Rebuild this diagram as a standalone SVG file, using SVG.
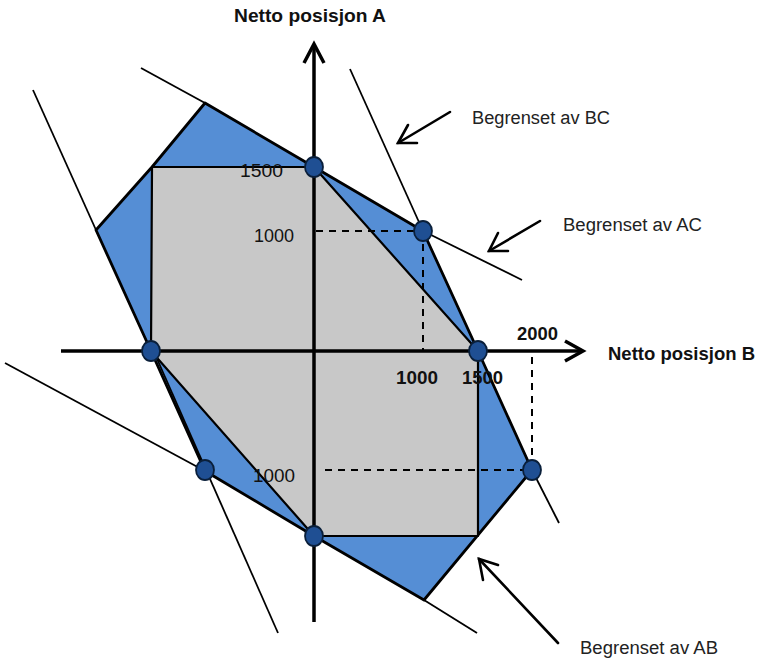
<svg xmlns="http://www.w3.org/2000/svg" width="759" height="659" viewBox="0 0 759 659">
<style>
.thin{stroke:#000;stroke-width:1.8;fill:none}
.thick{stroke:#000;stroke-width:2.8;fill:none;stroke-linejoin:round}
.axis{stroke:#000;stroke-width:3.5;fill:none}
.dash{stroke:#000;stroke-width:2;fill:none;stroke-dasharray:7,6}
.arr{stroke:#000;stroke-width:2.6;fill:none;stroke-linejoin:miter;stroke-linecap:round}
.pt{fill:#1f4f93;stroke:#0a1f3a;stroke-width:1.8}
.lbl{font-family:"Liberation Sans",Arial,sans-serif;font-size:18px;fill:#222}
.bold{font-family:"Liberation Sans",Arial,sans-serif;font-size:18px;font-weight:bold;fill:#111}
.num{font-family:"Liberation Sans",Arial,sans-serif;font-size:18px;fill:#111}
</style>
<rect width="759" height="659" fill="#fff"/>
<g id="regions">
<polygon id="blue" points="205,103 314,167 423,231 478,351 532,470 424,600 314,536 205,471 151,351 96,230 152,167" fill="#558ed5" stroke="#000" stroke-width="2.8" stroke-linejoin="round"/>
<polygon id="gray" points="152,167 314,167 478,351 478,536 314,536 151,351" fill="#c8c8c8" stroke="#000" stroke-width="2.2" stroke-linejoin="round"/>
</g>
<g id="connectors">
<line class="thin" x1="141" y1="68" x2="205" y2="103"/>
<line class="thin" x1="423" y1="231" x2="522" y2="280"/>
<line class="thin" x1="350" y1="69" x2="423" y2="231"/>
<line class="thin" x1="532" y1="470" x2="559" y2="523"/>
<line class="thin" x1="33" y1="90" x2="96" y2="230"/>
<line class="thin" x1="154" y1="352" x2="278" y2="633"/>
<line class="thin" x1="5" y1="363" x2="205" y2="471"/>
<line class="thin" x1="424" y1="600" x2="477" y2="633"/>
<line class="dash" x1="316" y1="231" x2="423" y2="231"/>
<line class="dash" x1="423" y1="231" x2="423" y2="351"/>
<line class="dash" x1="532" y1="357" x2="532" y2="470"/>
<line class="dash" x1="325" y1="470" x2="532" y2="470"/>
<line class="axis" x1="314" y1="44" x2="314" y2="622"/>
<polyline class="axis" points="304,63 314,44 324,63" stroke-linejoin="miter"/>
<line class="axis" x1="61" y1="351" x2="583" y2="351"/>
<polyline class="axis" points="565,341 583,351 565,361" stroke-linejoin="miter"/>
<line class="arr" x1="450" y1="112" x2="398" y2="143"/>
<polyline class="arr" points="408,125 398,143 417,143"/>
<line class="arr" x1="540" y1="221" x2="489" y2="251"/>
<polyline class="arr" points="498,233 489,251 508,251"/>
<line class="arr" x1="558" y1="643" x2="479" y2="559"/>
<polyline class="arr" points="498,565 479,559 483,580"/>
</g>
<g id="points">
<ellipse id="p1" class="pt" cx="314" cy="167" rx="9" ry="10"/>
<ellipse id="p2" class="pt" cx="423" cy="231" rx="9" ry="10"/>
<ellipse id="p3" class="pt" cx="478" cy="351" rx="9" ry="10"/>
<ellipse id="p4" class="pt" cx="532" cy="470" rx="9" ry="10"/>
<ellipse id="p5" class="pt" cx="314" cy="536" rx="9" ry="10"/>
<ellipse id="p6" class="pt" cx="205" cy="470" rx="9" ry="10"/>
<ellipse id="p7" class="pt" cx="151" cy="351" rx="9" ry="10"/>
</g>
<g id="labels">
<text class="bold" x="234" y="22" textLength="152" lengthAdjust="spacingAndGlyphs">Netto posisjon A</text>
<text class="bold" x="608" y="360" textLength="147" lengthAdjust="spacingAndGlyphs">Netto posisjon B</text>
<text class="lbl" x="472" y="124" textLength="138" lengthAdjust="spacingAndGlyphs">Begrenset av BC</text>
<text class="lbl" x="563" y="231" textLength="139" lengthAdjust="spacingAndGlyphs">Begrenset av AC</text>
<text class="lbl" x="580" y="654" textLength="138" lengthAdjust="spacingAndGlyphs">Begrenset av AB</text>
<text class="num" x="240" y="177" textLength="43" lengthAdjust="spacingAndGlyphs">1500</text>
<text class="num" x="254" y="242" textLength="40" lengthAdjust="spacingAndGlyphs">1000</text>
<text class="num" x="253" y="482" textLength="42" lengthAdjust="spacingAndGlyphs">1000</text>
<text class="bold" x="396" y="384" textLength="42" lengthAdjust="spacingAndGlyphs">1000</text>
<text class="bold" x="462" y="384" textLength="41" lengthAdjust="spacingAndGlyphs">1500</text>
<text class="bold" x="517" y="340" textLength="41" lengthAdjust="spacingAndGlyphs">2000</text>
</g>
</svg>
